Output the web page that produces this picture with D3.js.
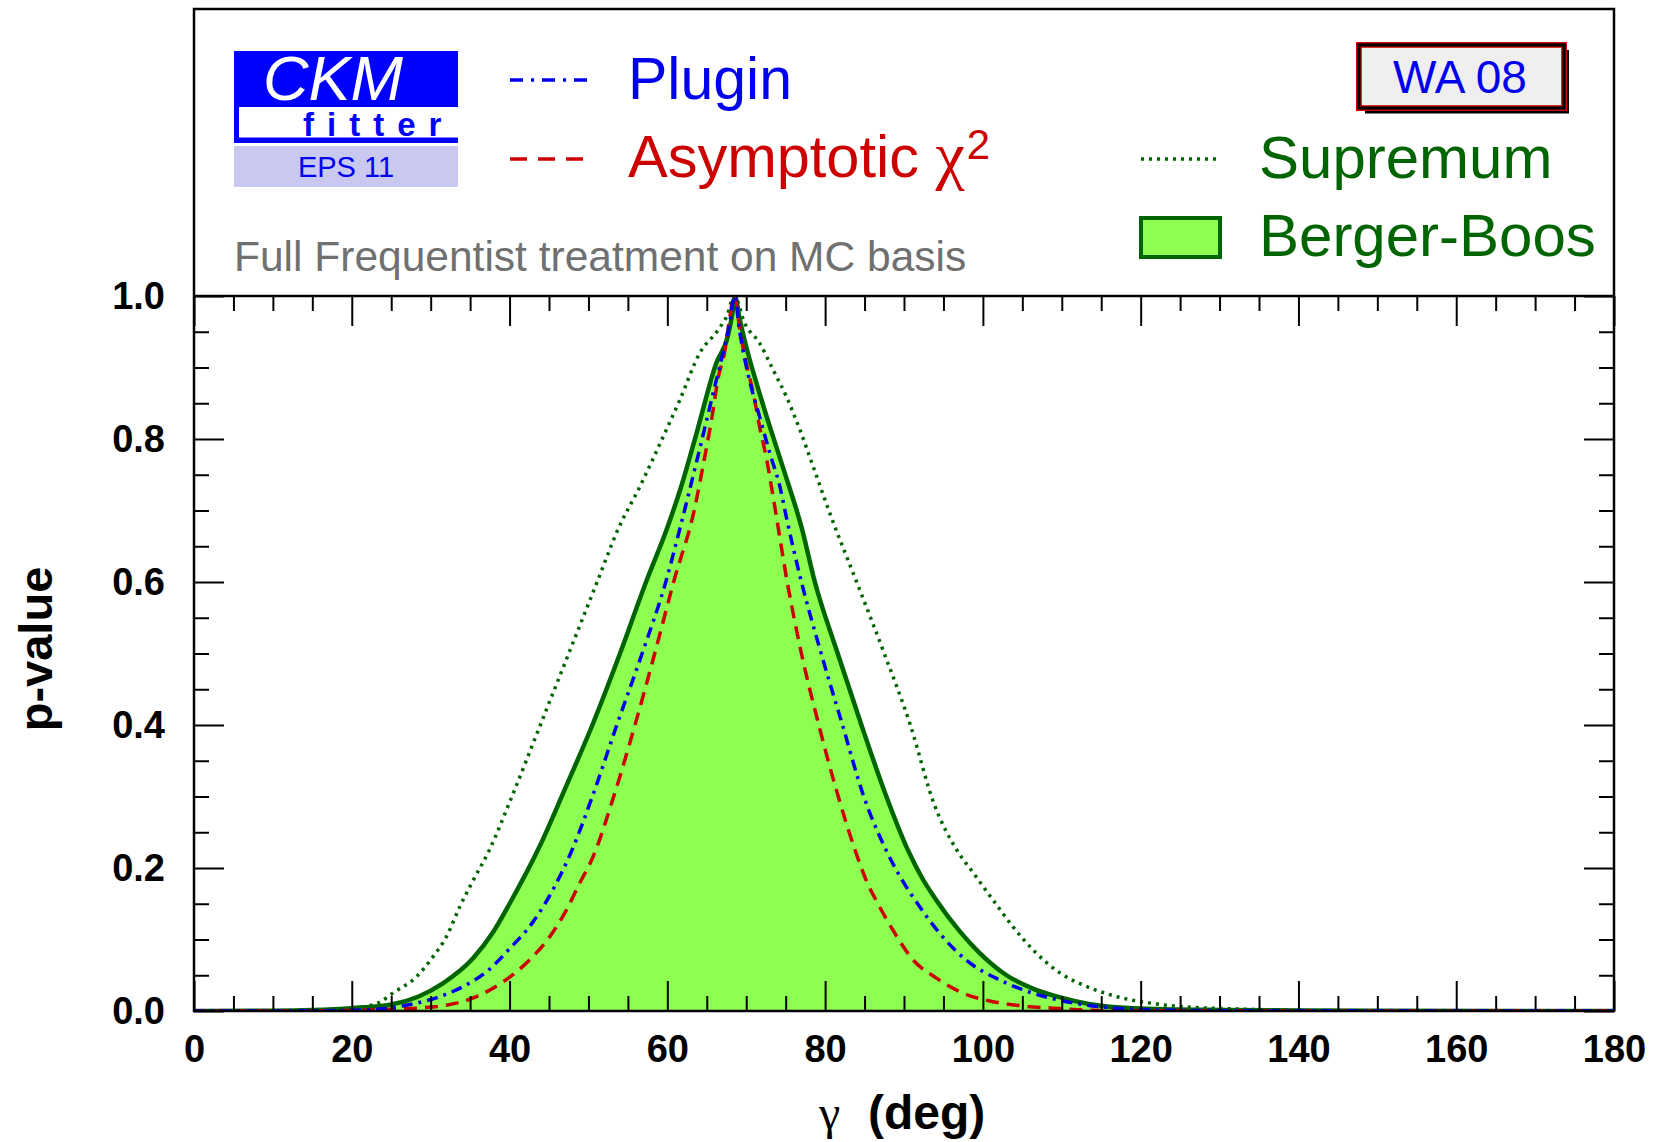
<!DOCTYPE html>
<html>
<head>
<meta charset="utf-8">
<script src="https://cdn.jsdelivr.net/npm/d3@7"></script>
<style>
  html, body { margin: 0; padding: 0; background: #fff; }
  svg { display: block; }
  text { font-family: "Liberation Sans", Arial, Helvetica, sans-serif; }
</style>
</head>
<body>
<svg id="chart" width="1657" height="1142"></svg>
<script>
// ---- Data ----
const xTicksMajor = [0, 20, 40, 60, 80, 100, 120, 140, 160, 180];
const yTicksMajor = [0, 0.2, 0.4, 0.6, 0.8, 1.0];

// Berger-Boos (filled, solid dark green)
const bbGamma = [0, 10, 15, 20, 25, 28.4, 31.6, 35.4, 37.9, 40, 43.8, 47, 50.5, 54, 57.3, 59.9, 61.8, 63.7, 66.2, 67.7, 68.25, 68.55, 69.2, 70.0, 71.3, 73.0, 74.9, 77.0, 78.7, 81.6, 84.6, 87.6, 90.5, 92.3, 94.1, 97.1, 99.6, 103.0, 106.4, 109.8, 113.6, 119, 130, 140, 150, 180];
const bbP     = [0, 0.0005, 0.0015, 0.004, 0.009, 0.02, 0.039, 0.074, 0.11, 0.15, 0.23, 0.31, 0.4, 0.5, 0.6, 0.673, 0.735, 0.808, 0.906, 0.945, 0.976, 1.0, 0.966, 0.929, 0.878, 0.817, 0.752, 0.677, 0.6, 0.5, 0.4, 0.305, 0.225, 0.186, 0.155, 0.111, 0.081, 0.05, 0.031, 0.019, 0.0095, 0.004, 0.0015, 0.0008, 0.0003, 0];

// Plugin (blue dash-dot)
const plGamma = [0, 15, 20, 24, 26.9, 31.1, 34.1, 37.1, 40, 43, 45.9, 47.8, 50.5, 53.6, 56.8, 59.8, 61.6, 63.7, 65.0, 66.0, 67.1, 67.9, 68.5, 69.2, 70.2, 71.7, 73.0, 74.3, 75.1, 77.0, 79.5, 82.2, 84.9, 87.6, 89.5, 91.6, 94.5, 97.9, 102.2, 106.3, 110.6, 114.8, 120, 130, 180];
const plP     = [0, 0.0003, 0.001, 0.003, 0.008, 0.02, 0.034, 0.055, 0.087, 0.125, 0.178, 0.222, 0.3, 0.4, 0.5, 0.6, 0.675, 0.768, 0.827, 0.873, 0.922, 0.962, 1.0, 0.948, 0.892, 0.831, 0.78, 0.732, 0.69, 0.6, 0.5, 0.4, 0.3, 0.228, 0.188, 0.152, 0.109, 0.071, 0.043, 0.025, 0.013, 0.006, 0.002, 0.0005, 0];

// Asymptotic chi2 (red dashed)
const asGamma = [0, 10, 20, 23.9, 28.2, 32, 35.8, 39.2, 42.5, 45.1, 47.2, 48.9, 50.6, 53.2, 55.9, 58.4, 60.8, 63.5, 64.5, 65.8, 66.4, 67.3, 67.9, 68.5, 69.2, 70.0, 70.9, 71.7, 72.6, 73.4, 75.2, 77.0, 79.2, 81.4, 83.8, 85.2, 86.9, 88.6, 91.2, 94.1, 97.5, 101.3, 105.1, 108.9, 114, 120, 180];
const asP     = [0, 0.0001, 0.0008, 0.002, 0.004, 0.008, 0.02, 0.041, 0.071, 0.104, 0.141, 0.179, 0.216, 0.3, 0.4, 0.5, 0.6, 0.705, 0.761, 0.84, 0.883, 0.924, 0.969, 1.0, 0.952, 0.906, 0.864, 0.817, 0.771, 0.72, 0.6, 0.5, 0.4, 0.31, 0.225, 0.183, 0.146, 0.113, 0.071, 0.046, 0.025, 0.013, 0.007, 0.004, 0.001, 0.0003, 0];

// Supremum (green dotted)
const suGamma = [0, 10, 15, 20, 21.8, 23.5, 25.2, 28.2, 30.3, 32, 33.7, 35.4, 37.3, 40.3, 43.9, 47.5, 51.1, 53.8, 56.5, 59.3, 61.6, 64.1, 66.4, 67.5, 68.5, 69.8, 71.7, 73.4, 75.1, 76.8, 78.5, 80.6, 84.0, 87.5, 90.8, 93.8, 96.7, 98.8, 101.3, 103.8, 106.4, 109.8, 113.2, 117, 121.2, 125.4, 131.7, 140, 150, 180];
const suP     = [0, 0.0002, 0.001, 0.003, 0.006, 0.012, 0.025, 0.048, 0.076, 0.104, 0.146, 0.183, 0.222, 0.3, 0.4, 0.5, 0.6, 0.675, 0.733, 0.799, 0.855, 0.92, 0.952, 0.971, 1.0, 0.962, 0.934, 0.897, 0.859, 0.813, 0.761, 0.696, 0.6, 0.5, 0.4, 0.29, 0.225, 0.193, 0.155, 0.118, 0.085, 0.053, 0.034, 0.02, 0.011, 0.006, 0.003, 0.001, 0.0003, 0];

const legendLabels = ["Plugin", "Asymptotic ", "Supremum", "Berger-Boos"];

// ---- Colours ----
const BLUE = "#0000ee", RED = "#cc0000", DGREEN = "#006400", LGREEN = "#8cff50";

const svg = d3.select("#chart");
svg.append("rect").attr("width", 1657).attr("height", 1142).attr("fill", "#fff");

const L = 194, R = 1614, T = 296, B = 1011, FRAME_TOP = 9;
const x = d3.scaleLinear().domain([0, 180]).range([L, R]);
const y = d3.scaleLinear().domain([0, 1]).range([B, T]);

const zip = (g, p) => g.map((v, i) => [v, p[i]]);
const line = d3.line().x(d => x(d[0])).y(d => y(d[1])).curve(d3.curveMonotoneX);
const area = d3.area().x(d => x(d[0])).y0(y(0)).y1(d => y(d[1])).curve(d3.curveMonotoneX);

svg.append("clipPath").attr("id", "clip").append("rect")
  .attr("x", L).attr("y", T).attr("width", R - L).attr("height", B - T);
const plot = svg.append("g").attr("clip-path", "url(#clip)");

const bb = zip(bbGamma, bbP);
plot.append("path").attr("d", area(bb)).attr("fill", LGREEN);
plot.append("path").attr("d", line(bb)).attr("fill", "none").attr("stroke", DGREEN).attr("stroke-width", 4.5);
plot.append("path").attr("d", line(zip(suGamma, suP))).attr("fill", "none")
  .attr("stroke", DGREEN).attr("stroke-width", 3.5).attr("stroke-dasharray", "3,5");
plot.append("path").attr("d", line(zip(asGamma, asP))).attr("fill", "none")
  .attr("stroke", RED).attr("stroke-width", 3.5).attr("stroke-dasharray", "13,8");
plot.append("path").attr("d", line(zip(plGamma, plP))).attr("fill", "none")
  .attr("stroke", BLUE).attr("stroke-width", 3.5).attr("stroke-dasharray", "11,6,3,6");

// ---- Axes ----
const xMinor = d3.range(0, 181, 5).filter(v => v % 20 !== 0);
const yMinor = d3.range(0, 1.001, 0.05).map(v => +v.toFixed(2)).filter(v => Math.round(v * 100) % 20 !== 0);

function styleAxis(g) {
  g.select(".domain").remove();
  g.selectAll(".tick line").attr("stroke", "#000").attr("stroke-width", 2);
  g.selectAll("text").attr("fill", "#000").attr("font-weight", "bold").attr("font-size", 38)
    .attr("font-family", "'Liberation Sans', Arial, Helvetica, sans-serif");
}
// bottom
svg.append("g").attr("transform", `translate(0,${B})`)
  .call(d3.axisBottom(x).tickValues(xTicksMajor).tickSize(-30).tickPadding(24).tickFormat(d3.format("d")))
  .call(styleAxis);
svg.append("g").attr("transform", `translate(0,${B})`)
  .call(d3.axisBottom(x).tickValues(xMinor).tickSize(-15).tickFormat(""))
  .call(styleAxis);
// top
svg.append("g").attr("transform", `translate(0,${T})`)
  .call(d3.axisTop(x).tickValues(xTicksMajor).tickSize(-30).tickFormat(""))
  .call(styleAxis);
svg.append("g").attr("transform", `translate(0,${T})`)
  .call(d3.axisTop(x).tickValues(xMinor).tickSize(-15).tickFormat(""))
  .call(styleAxis);
// left
svg.append("g").attr("transform", `translate(${L},0)`)
  .call(d3.axisLeft(y).tickValues(yTicksMajor).tickSize(-30).tickPadding(29).tickFormat(d3.format(".1f")))
  .call(styleAxis);
svg.append("g").attr("transform", `translate(${L},0)`)
  .call(d3.axisLeft(y).tickValues(yMinor).tickSize(-15).tickFormat(""))
  .call(styleAxis);
// right
svg.append("g").attr("transform", `translate(${R},0)`)
  .call(d3.axisRight(y).tickValues(yTicksMajor).tickSize(-30).tickFormat(""))
  .call(styleAxis);
svg.append("g").attr("transform", `translate(${R},0)`)
  .call(d3.axisRight(y).tickValues(yMinor).tickSize(-15).tickFormat(""))
  .call(styleAxis);

// frame
svg.append("rect").attr("x", L).attr("y", FRAME_TOP).attr("width", R - L).attr("height", B - FRAME_TOP)
  .attr("fill", "none").attr("stroke", "#000").attr("stroke-width", 2.5);
svg.append("line").attr("x1", L).attr("x2", R).attr("y1", T).attr("y2", T)
  .attr("stroke", "#000").attr("stroke-width", 2.5);

// axis titles
svg.append("text").attr("transform", "translate(52,649) rotate(-90)")
  .attr("text-anchor", "middle").attr("font-weight", "bold").attr("font-size", 47).text("p-value");
const xt = svg.append("text").attr("y", 1129).attr("font-size", 48);
xt.append("tspan").attr("x", 819).attr("font-family", "'Liberation Serif', 'DejaVu Serif', serif").text("γ");
xt.append("tspan").attr("x", 868).attr("font-weight", "bold").text("(deg)");

// ---- Logo ----
svg.append("rect").attr("x", 234).attr("y", 51).attr("width", 224).attr("height", 92).attr("fill", "#0000ff");
svg.append("rect").attr("x", 239).attr("y", 107).attr("width", 219).attr("height", 30.5).attr("fill", "#fff");
svg.append("text").attr("x", 263).attr("y", 100).attr("font-size", 63).attr("font-style", "italic")
  .attr("fill", "#fff").text("CKM");
svg.append("text").attr("x", 303).attr("y", 136).attr("font-size", 33).attr("font-weight", "bold")
  .attr("letter-spacing", 13).attr("fill", "#0000ff").text("fitter");
svg.append("rect").attr("x", 234).attr("y", 146).attr("width", 224).attr("height", 41).attr("fill", "#c8c8f0");
svg.append("text").attr("x", 346).attr("y", 177).attr("text-anchor", "middle").attr("font-size", 29)
  .attr("fill", "#0000ee").text("EPS 11");

svg.append("text").attr("x", 234).attr("y", 271).attr("font-size", 42.5).attr("fill", "#707070")
  .text("Full Frequentist treatment on MC basis");

// ---- Legend ----
svg.append("line").attr("x1", 510).attr("x2", 589).attr("y1", 80).attr("y2", 80)
  .attr("stroke", BLUE).attr("stroke-width", 3.5).attr("stroke-dasharray", "13,8,3,8");
svg.append("text").attr("x", 628).attr("y", 99).attr("font-size", 59).attr("fill", BLUE).text(legendLabels[0]);

svg.append("line").attr("x1", 510).attr("x2", 589).attr("y1", 159).attr("y2", 159)
  .attr("stroke", RED).attr("stroke-width", 3.5).attr("stroke-dasharray", "17,11");
const asText = svg.append("text").attr("x", 628).attr("y", 177).attr("font-size", 59.5).attr("fill", RED);
asText.append("tspan").text(legendLabels[1]);
asText.append("tspan").attr("font-family", "'Liberation Serif', 'DejaVu Serif', serif").attr("font-size", 66).text("χ");
asText.append("tspan").attr("font-size", 42).attr("dx", 2).attr("dy", -18).text("2");

svg.append("line").attr("x1", 1141).attr("x2", 1219).attr("y1", 159).attr("y2", 159)
  .attr("stroke", DGREEN).attr("stroke-width", 3.5).attr("stroke-dasharray", "3,5");
svg.append("text").attr("x", 1259).attr("y", 178).attr("font-size", 60).attr("fill", DGREEN).text(legendLabels[2]);

svg.append("rect").attr("x", 1141).attr("y", 218).attr("width", 79).attr("height", 39)
  .attr("fill", LGREEN).attr("stroke", DGREEN).attr("stroke-width", 4);
svg.append("text").attr("x", 1259).attr("y", 256).attr("font-size", 60).attr("fill", DGREEN).text(legendLabels[3]);

// ---- WA 08 box ----
svg.append("rect").attr("x", 1365).attr("y", 50).attr("width", 204).attr("height", 63.5).attr("fill", "#000");
svg.append("rect").attr("x", 1356).attr("y", 42).attr("width", 211).attr("height", 69).attr("fill", "#e00000");
svg.append("rect").attr("x", 1357.3).attr("y", 43.3).attr("width", 208.4).attr("height", 66.4).attr("fill", "#000");
svg.append("rect").attr("x", 1360.5).attr("y", 46.5).attr("width", 202).attr("height", 60).attr("fill", "#d00000");
svg.append("rect").attr("x", 1361.8).attr("y", 47.8).attr("width", 199.4).attr("height", 57.4).attr("fill", "#efefef");
svg.append("text").attr("x", 1460).attr("y", 93).attr("text-anchor", "middle").attr("font-size", 46)
  .attr("fill", BLUE).text("WA 08");
</script>
</body>
</html>
